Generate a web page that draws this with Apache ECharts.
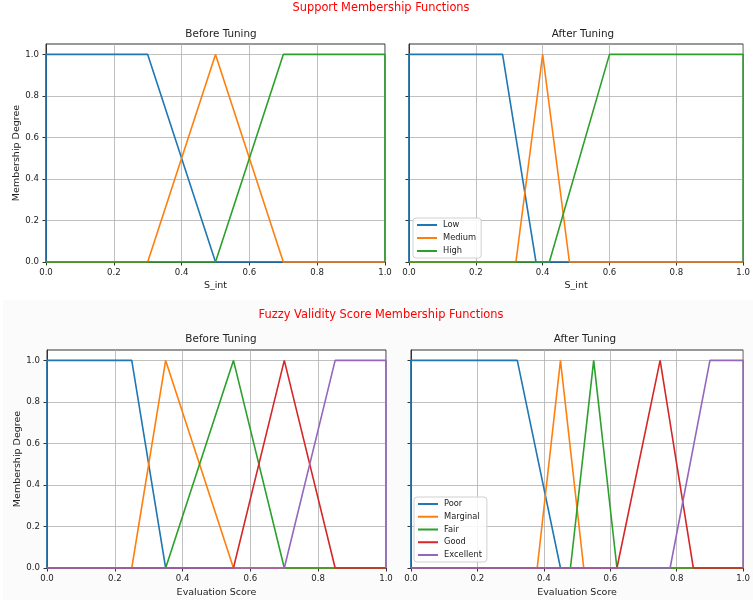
<!DOCTYPE html>
<html>
<head>
<meta charset="utf-8">
<script src="https://cdn.jsdelivr.net/npm/echarts@6/dist/echarts.min.js"></script>
<style>html,body{margin:0;padding:0;background:#fff}#c{width:753px;height:600px}</style>
</head>
<body>
<div id="c"></div>
<script>
// ---- data ----
const xTicks = [0, 0.2, 0.4, 0.6, 0.8, 1.0];
const yTicks = [0, 0.2, 0.4, 0.6, 0.8, 1.0];

const supportNames = ['Low', 'Medium', 'High'];
const supportBeforeLow    = [[0,0],[0,1],[0.30,1],[0.50,0],[1,0]];
const supportBeforeMedium = [[0,0],[0.30,0],[0.50,1],[0.70,0],[1,0]];
const supportBeforeHigh   = [[0,0],[0.50,0],[0.70,1],[1,1],[1,0]];
const supportAfterLow     = [[0,0],[0,1],[0.28,1],[0.38,0],[1,0]];
const supportAfterMedium  = [[0,0],[0.32,0],[0.40,1],[0.48,0],[1,0]];
const supportAfterHigh    = [[0,0],[0.42,0],[0.60,1],[1,1],[1,0]];

const scoreNames = ['Poor', 'Marginal', 'Fair', 'Good', 'Excellent'];
const scoreBeforePoor      = [[0,0],[0,1],[0.25,1],[0.35,0],[1,0]];
const scoreBeforeMarginal  = [[0,0],[0.25,0],[0.35,1],[0.55,0],[1,0]];
const scoreBeforeFair      = [[0,0],[0.35,0],[0.55,1],[0.70,0],[1,0]];
const scoreBeforeGood      = [[0,0],[0.55,0],[0.70,1],[0.85,0],[1,0]];
const scoreBeforeExcellent = [[0,0],[0.70,0],[0.85,1],[1,1],[1,0]];
const scoreAfterPoor       = [[0,0],[0,1],[0.32,1],[0.45,0],[1,0]];
const scoreAfterMarginal   = [[0,0],[0.38,0],[0.45,1],[0.52,0],[1,0]];
const scoreAfterFair       = [[0,0],[0.48,0],[0.55,1],[0.62,0],[1,0]];
const scoreAfterGood       = [[0,0],[0.62,0],[0.75,1],[0.85,0],[1,0]];
const scoreAfterExcellent  = [[0,0],[0.78,0],[0.90,1],[1,1],[1,0]];

const colors = ['#1f77b4', '#ff7f0e', '#2ca02c', '#d62728', '#9467bd'];
const FONT = 'DejaVu Sans';

// ---- layout ----
const grids = [
  {left: 46, top: 44, width: 339, height: 218},
  {left: 409, top: 44, width: 339, height: 218},
  {left: 47, top: 350, width: 339, height: 218},
  {left: 411, top: 350, width: 338, height: 218}
];
const xNames = ['S_int', 'S_int', 'Evaluation Score', 'Evaluation Score'];
const xNameGaps = [18.5, 18.5, 19.5, 19.5];

const xAxes = grids.map((g, i) => ({
  type: 'value', gridIndex: i, min: 0, max: 1, interval: 0.2,
  name: xNames[i], nameLocation: 'middle', nameGap: xNameGaps[i],
  nameTextStyle: {fontFamily: FONT, fontSize: 9.5, color: '#222'},
  axisLine: {show: true, onZero: false, lineStyle: {color: '#333', width: 1}},
  axisTick: {show: true, length: 3.5, customValues: xTicks, lineStyle: {color: '#333'}},
  axisLabel: {fontFamily: FONT, fontSize: 8.6, color: '#222', margin: 6, customValues: xTicks,
    formatter: v => v.toFixed(1)},
  splitLine: {show: true, lineStyle: {color: '#b0b0b0', width: 0.8}}
}));
const yAxes = grids.map((g, i) => ({
  type: 'value', gridIndex: i, min: 0, max: 1.05, interval: 0.2,
  name: (i % 2 === 0) ? 'Membership Degree' : '', nameLocation: 'middle', nameGap: 24.5,
  nameTextStyle: {fontFamily: FONT, fontSize: 9.5, color: '#222'},
  axisLine: {show: true, lineStyle: {color: '#333', width: 1}},
  axisTick: {show: true, length: 3.5, customValues: yTicks, lineStyle: {color: '#333'}},
  axisLabel: {show: i % 2 === 0, fontFamily: FONT, fontSize: 8.6, color: '#222', margin: 7, customValues: yTicks,
    formatter: v => v.toFixed(1)},
  splitLine: {show: true, lineStyle: {color: '#b0b0b0', width: 0.8}}
}));

function mk(name, data, idx, color){
  return {
    type: 'line', name: name, data: data, xAxisIndex: idx, yAxisIndex: idx,
    showSymbol: false, symbol: 'none', clip: false, animation: false,
    lineStyle: {color: color, width: 1.6}, itemStyle: {color: color}
  };
}

const series = [
  mk('Low', supportBeforeLow, 0, colors[0]),
  mk('Medium', supportBeforeMedium, 0, colors[1]),
  mk('High', supportBeforeHigh, 0, colors[2]),
  mk('Low', supportAfterLow, 1, colors[0]),
  mk('Medium', supportAfterMedium, 1, colors[1]),
  mk('High', supportAfterHigh, 1, colors[2]),
  mk('Poor', scoreBeforePoor, 2, colors[0]),
  mk('Marginal', scoreBeforeMarginal, 2, colors[1]),
  mk('Fair', scoreBeforeFair, 2, colors[2]),
  mk('Good', scoreBeforeGood, 2, colors[3]),
  mk('Excellent', scoreBeforeExcellent, 2, colors[4]),
  mk('Poor', scoreAfterPoor, 3, colors[0]),
  mk('Marginal', scoreAfterMarginal, 3, colors[1]),
  mk('Fair', scoreAfterFair, 3, colors[2]),
  mk('Good', scoreAfterGood, 3, colors[3]),
  mk('Excellent', scoreAfterExcellent, 3, colors[4])
];

function legend(names, left, top, gap){
  return {
    data: names, orient: 'vertical', left: left, top: top,
    icon: 'rect', itemWidth: 20, itemHeight: 2, itemGap: gap,
    padding: [2, 5, 2, 4], selectedMode: false,
    backgroundColor: 'rgba(255,255,255,0.85)', borderColor: '#d0d0d0', borderWidth: 1, borderRadius: 3,
    textStyle: {fontFamily: FONT, fontSize: 8.3, color: '#222', lineHeight: 10, padding: [0, 0, 0, 1]}
  };
}

function ttl(text, x, y, size, color){
  return {text: text, left: x, top: y, textAlign: 'center',
    textStyle: {fontFamily: FONT, fontSize: size, fontWeight: 'normal', color: color}};
}

const option = {
  animation: false,
  backgroundColor: '#fff',
  graphic: [{type: 'rect', shape: {x: 3, y: 300, width: 750, height: 300}, style: {fill: '#fbfbfb'}, z: -10, silent: true}],
  title: [
    ttl('Support Membership Functions', 376, -2, 11.4, '#ff0000'),
    ttl('Before Tuning', 216, 23.8, 10.4, '#222'),
    ttl('After Tuning', 578, 23.8, 10.4, '#222'),
    ttl('Fuzzy Validity Score Membership Functions', 376, 304.3, 11.4, '#ff0000'),
    ttl('Before Tuning', 216, 328.8, 10.4, '#222'),
    ttl('After Tuning', 580, 328.8, 10.4, '#222')
  ],
  legend: [legend(supportNames, 413, 218, 3), legend(scoreNames, 414, 497, 2.75)],
  grid: grids.map(g => Object.assign({show: true, borderColor: '#333', borderWidth: 1, backgroundColor: '#fff', containLabel: false}, g)),
  xAxis: xAxes,
  yAxis: yAxes,
  series: series
};

const chart = echarts.init(document.getElementById('c'), null, {renderer: 'canvas'});
chart.setOption(option);
</script>
</body>
</html>
